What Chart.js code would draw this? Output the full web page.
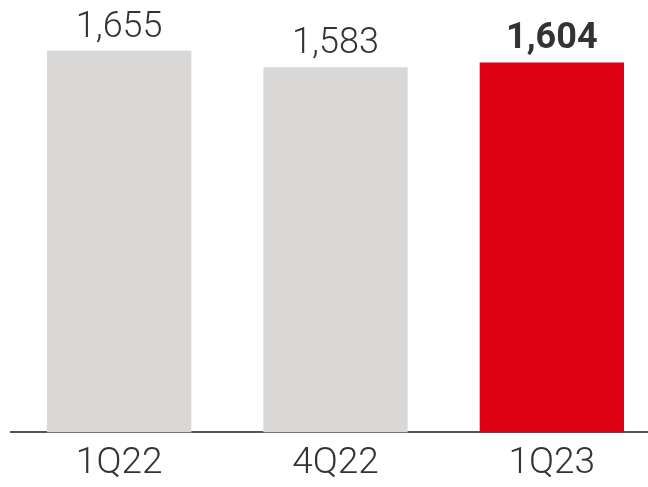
<!DOCTYPE html>
<html>
<head>
<meta charset="utf-8">
<script src="https://cdn.jsdelivr.net/npm/chart.js@4.4.1/dist/chart.umd.min.js"></script>
<style>
  html, body { margin: 0; padding: 0; background: #fff; overflow: hidden; }
  #wrap { width: 660px; height: 487px; }
</style>
</head>
<body>
<div id="wrap"><canvas id="quarterChart" width="660" height="487"></canvas></div>
<script>
const quarters = ["1Q22", "4Q22", "1Q23"];
const values = [1655, 1583, 1604];
const barColors = ["#d9d8d6", "#d9d8d6", "#dc0012"];
// last quarter is highlighted, its label is bold
const boldLabel = [false, false, true];

// draws the formatted value above each bar
const valueLabels = {
  id: "valueLabels",
  afterDatasetsDraw(chart) {
    const ctx = chart.ctx;
    const meta = chart.getDatasetMeta(0);
    ctx.save();
    ctx.fillStyle = "#333333";
    ctx.textAlign = "center";
    ctx.textBaseline = "alphabetic";
    meta.data.forEach((bar, i) => {
      ctx.font = (boldLabel[i] ? "bold " : "300 ") + "36px Roboto, 'Liberation Sans', sans-serif";
      ctx.fillText(values[i].toLocaleString("en-US"), bar.x, bar.y - 14);
    });
    ctx.restore();
  }
};

new Chart(document.getElementById("quarterChart"), {
  type: "bar",
  data: {
    labels: quarters,
    datasets: [{
      data: values,
      backgroundColor: barColors,
      borderWidth: 0,
      categoryPercentage: 1,
      barPercentage: 0.667
    }]
  },
  options: {
    responsive: false,
    animation: false,
    layout: { padding: { left: 11, right: 0, top: 0, bottom: 0 } },
    plugins: { legend: { display: false }, tooltip: { enabled: false } },
    scales: {
      x: {
        grid: { display: false },
        border: { display: true, color: "#555555", width: 2 },
        ticks: {
          color: "#333333",
          padding: 8.5,
          font: { family: "Roboto, 'Liberation Sans', sans-serif", size: 37, weight: 300, lineHeight: 0.8 }
        }
      },
      y: {
        display: false,
        min: 0,
        max: 1875
      }
    }
  },
  plugins: [valueLabels]
});
</script>
</body>
</html>
